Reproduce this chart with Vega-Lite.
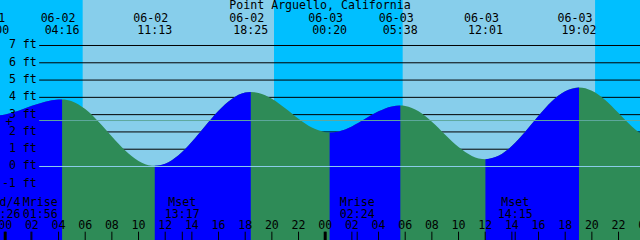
{
  "$schema": "https://vega.github.io/schema/vega-lite/v6.json",
  "width": 640,
  "height": 240,
  "autosize": {"type": "none"},
  "padding": 0,
  "background": "#00BFFF",
  "view": {"stroke": null, "fill": "#00BFFF"},
  "config": {
    "text": {"font": "DejaVu Sans Mono", "fontSize": 11.6, "color": "#000000", "baseline": "alphabetic"}
  },
  "datasets": {
    "tide": [
      {"t": -1.0, "ft": 2.93, "phase": "rising", "seg": 0},
      {"t": 0, "ft": 3.012, "phase": "rising", "seg": 0},
      {"t": 1, "ft": 3.229, "phase": "rising", "seg": 0},
      {"t": 2, "ft": 3.508, "phase": "rising", "seg": 0},
      {"t": 3, "ft": 3.751, "phase": "rising", "seg": 0},
      {"t": 4, "ft": 3.874, "phase": "rising", "seg": 0},
      {"t": 4.267, "ft": 3.88, "phase": "rising", "seg": 0},
      {"t": 5, "ft": 3.776, "phase": "falling", "seg": 1},
      {"t": 6, "ft": 3.32, "phase": "falling", "seg": 1},
      {"t": 7, "ft": 2.592, "phase": "falling", "seg": 1},
      {"t": 8, "ft": 1.737, "phase": "falling", "seg": 1},
      {"t": 9, "ft": 0.925, "phase": "falling", "seg": 1},
      {"t": 10, "ft": 0.325, "phase": "falling", "seg": 1},
      {"t": 11, "ft": 0.049, "phase": "falling", "seg": 1},
      {"t": 11.217, "ft": 0.04, "phase": "rising", "seg": 2},
      {"t": 12, "ft": 0.163, "phase": "rising", "seg": 2},
      {"t": 13, "ft": 0.654, "phase": "rising", "seg": 2},
      {"t": 14, "ft": 1.429, "phase": "rising", "seg": 2},
      {"t": 15, "ft": 2.346, "phase": "rising", "seg": 2},
      {"t": 16, "ft": 3.229, "phase": "rising", "seg": 2},
      {"t": 17, "ft": 3.911, "phase": "rising", "seg": 2},
      {"t": 18, "ft": 4.275, "phase": "rising", "seg": 2},
      {"t": 18.417, "ft": 4.31, "phase": "rising", "seg": 2},
      {"t": 19, "ft": 4.254, "phase": "falling", "seg": 3},
      {"t": 20, "ft": 3.92, "phase": "falling", "seg": 3},
      {"t": 21, "ft": 3.371, "phase": "falling", "seg": 3},
      {"t": 22, "ft": 2.759, "phase": "falling", "seg": 3},
      {"t": 23, "ft": 2.249, "phase": "falling", "seg": 3},
      {"t": 24, "ft": 1.988, "phase": "falling", "seg": 3},
      {"t": 24.333, "ft": 1.97, "phase": "rising", "seg": 4},
      {"t": 25, "ft": 2.03, "phase": "rising", "seg": 4},
      {"t": 26, "ft": 2.321, "phase": "rising", "seg": 4},
      {"t": 27, "ft": 2.758, "phase": "rising", "seg": 4},
      {"t": 28, "ft": 3.192, "phase": "rising", "seg": 4},
      {"t": 29, "ft": 3.476, "phase": "rising", "seg": 4},
      {"t": 29.633, "ft": 3.53, "phase": "rising", "seg": 4},
      {"t": 30, "ft": 3.505, "phase": "falling", "seg": 5},
      {"t": 31, "ft": 3.191, "phase": "falling", "seg": 5},
      {"t": 32, "ft": 2.59, "phase": "falling", "seg": 5},
      {"t": 33, "ft": 1.841, "phase": "falling", "seg": 5},
      {"t": 34, "ft": 1.125, "phase": "falling", "seg": 5},
      {"t": 35, "ft": 0.612, "phase": "falling", "seg": 5},
      {"t": 36.017, "ft": 0.42, "phase": "rising", "seg": 6},
      {"t": 37, "ft": 0.618, "phase": "rising", "seg": 6},
      {"t": 38, "ft": 1.186, "phase": "rising", "seg": 6},
      {"t": 39, "ft": 2.012, "phase": "rising", "seg": 6},
      {"t": 40, "ft": 2.933, "phase": "rising", "seg": 6},
      {"t": 41, "ft": 3.771, "phase": "rising", "seg": 6},
      {"t": 42, "ft": 4.353, "phase": "rising", "seg": 6},
      {"t": 43.033, "ft": 4.57, "phase": "rising", "seg": 6},
      {"t": 44, "ft": 4.383, "phase": "falling", "seg": 7},
      {"t": 45, "ft": 3.847, "phase": "falling", "seg": 7},
      {"t": 46, "ft": 3.093, "phase": "falling", "seg": 7},
      {"t": 47, "ft": 2.316, "phase": "falling", "seg": 7},
      {"t": 48, "ft": 1.717, "phase": "falling", "seg": 7},
      {"t": 49.2, "ft": 1.43, "phase": "falling", "seg": 7}
    ],
    "daylight": [
      {"sunrise": 5.81, "sunset": 20.16},
      {"sunrise": 29.81, "sunset": 44.24}
    ],
    "levels": [
      {"ft": 7, "label": "7 ft"}, {"ft": 6, "label": "6 ft"}, {"ft": 5, "label": "5 ft"},
      {"ft": 4, "label": "4 ft"}, {"ft": 3, "label": "3 ft"}, {"ft": 2, "label": "2 ft"},
      {"ft": 1, "label": "1 ft"}, {"ft": 0, "label": "0 ft"}, {"ft": -1, "label": "-1 ft"},
      {"ft": -2, "label": ""}, {"ft": -3, "label": ""}, {"ft": -4, "label": ""}
    ],
    "marklines": [
      {"name": "datum", "ft": 0},
      {"name": "mean", "ft": 2.66}
    ],
    "events": [
      {"t": -1.0, "date": "06-01", "time": "23:00"},
      {"t": 4.267, "date": "06-02", "time": "04:16"},
      {"t": 11.217, "date": "06-02", "time": "11:13"},
      {"t": 18.417, "date": "06-02", "time": "18:25"},
      {"t": 24.333, "date": "06-03", "time": "00:20"},
      {"t": 29.633, "date": "06-03", "time": "05:38"},
      {"t": 36.017, "date": "06-03", "time": "12:01"},
      {"t": 43.033, "date": "06-03", "time": "19:02"}
    ],
    "hours": [
      {"t": 0, "label": "00"}, {"t": 2, "label": "02"}, {"t": 4, "label": "04"},
      {"t": 6, "label": "06"}, {"t": 8, "label": "08"}, {"t": 10, "label": "10"},
      {"t": 12, "label": "12"}, {"t": 14, "label": "14"}, {"t": 16, "label": "16"},
      {"t": 18, "label": "18"}, {"t": 20, "label": "20"}, {"t": 22, "label": "22"},
      {"t": 24, "label": "00"}, {"t": 26, "label": "02"}, {"t": 28, "label": "04"},
      {"t": 30, "label": "06"}, {"t": 32, "label": "08"}, {"t": 34, "label": "10"},
      {"t": 36, "label": "12"}, {"t": 38, "label": "14"}, {"t": 40, "label": "16"},
      {"t": 42, "label": "18"}, {"t": 44, "label": "20"}, {"t": 46, "label": "22"},
      {"t": 48, "label": "00"}
    ],
    "moon": [
      {"t": 0.433, "name": "3rd/4", "time": "00:26"},
      {"t": 1.933, "name": "Mrise", "time": "01:56"},
      {"t": 13.283, "name": "Mset", "time": "13:17"},
      {"t": 26.4, "name": "Mrise", "time": "02:24"},
      {"t": 38.25, "name": "Mset", "time": "14:15"}
    ],
    "station": [{"name": "Point Arguello, California"}]
  },
  "layer": [
    {
      "data": {"name": "daylight"},
      "mark": {"type": "rect", "color": "#87CEEB"},
      "encoding": {
        "x": {"field": "sunrise", "type": "quantitative", "scale": {"domain": [-0.39, 47.61], "nice": false, "zero": false}, "axis": null},
        "x2": {"field": "sunset"},
        "y": {"datum": 9.632, "type": "quantitative", "scale": {"domain": [-4.252, 9.632], "nice": false, "zero": false}, "axis": null},
        "y2": {"datum": -4.252}
      }
    },
    {
      "data": {"name": "levels"},
      "mark": {"type": "rule", "color": "#000000", "strokeWidth": 1},
      "encoding": {
        "x": {"datum": 2.55, "type": "quantitative", "scale": {"domain": [-0.39, 47.61], "nice": false, "zero": false}, "axis": null},
        "x2": {"datum": 47.61},
        "y": {"field": "ft", "type": "quantitative", "scale": {"domain": [-4.252, 9.632], "nice": false, "zero": false}, "axis": null}
      }
    },
    {
      "data": {"name": "tide"},
      "mark": {"type": "area", "interpolate": "monotone", "color": "#2E8B57", "clip": true},
      "encoding": {
        "x": {"field": "t", "type": "quantitative", "scale": {"domain": [-0.39, 47.61], "nice": false, "zero": false}, "axis": null},
        "y": {"field": "ft", "type": "quantitative", "stack": null, "scale": {"domain": [-4.252, 9.632], "nice": false, "zero": false}, "axis": null},
        "y2": {"datum": -4.252}
      }
    },
    {
      "data": {"name": "tide"},
      "transform": [{"filter": "datum.phase == 'rising'"}],
      "mark": {"type": "area", "interpolate": "monotone", "color": "#0000FF", "clip": true},
      "encoding": {
        "x": {"field": "t", "type": "quantitative", "scale": {"domain": [-0.39, 47.61], "nice": false, "zero": false}, "axis": null},
        "y": {"field": "ft", "type": "quantitative", "stack": null, "scale": {"domain": [-4.252, 9.632], "nice": false, "zero": false}, "axis": null},
        "y2": {"datum": -4.252},
        "detail": {"field": "seg", "type": "nominal"}
      }
    },
    {
      "data": {"name": "marklines"},
      "mark": {"type": "rule", "strokeWidth": 1},
      "encoding": {
        "x": {"datum": 2.55, "type": "quantitative", "scale": {"domain": [-0.39, 47.61], "nice": false, "zero": false}, "axis": null},
        "x2": {"datum": 47.61},
        "y": {"field": "ft", "type": "quantitative", "scale": {"domain": [-4.252, 9.632], "nice": false, "zero": false}, "axis": null},
        "color": {"field": "name", "type": "nominal", "scale": {"domain": ["datum", "mean"], "range": ["#8CCDEB", "#5FA89E"]}, "legend": null}
      }
    },
    {
      "data": {"name": "levels"},
      "transform": [{"filter": "datum.label != ''"}],
      "mark": {"type": "text", "align": "right", "baseline": "middle", "clip": true},
      "encoding": {
        "x": {"datum": 2.37, "type": "quantitative", "scale": {"domain": [-0.39, 47.61], "nice": false, "zero": false}, "axis": null},
        "y": {"field": "ft", "type": "quantitative", "scale": {"domain": [-4.252, 9.632], "nice": false, "zero": false}, "axis": null},
        "text": {"field": "label"}
      }
    },
    {
      "data": {"name": "events"},
      "mark": {"type": "text", "align": "center", "dx": -4, "clip": true},
      "encoding": {
        "x": {"field": "t", "type": "quantitative", "scale": {"domain": [-0.39, 47.61], "nice": false, "zero": false}, "axis": null},
        "y": {"datum": 8.377, "type": "quantitative", "scale": {"domain": [-4.252, 9.632], "nice": false, "zero": false}, "axis": null},
        "text": {"field": "date"}
      }
    },
    {
      "data": {"name": "events"},
      "mark": {"type": "text", "align": "center", "clip": true},
      "encoding": {
        "x": {"field": "t", "type": "quantitative", "scale": {"domain": [-0.39, 47.61], "nice": false, "zero": false}, "axis": null},
        "y": {"datum": 7.648, "type": "quantitative", "scale": {"domain": [-4.252, 9.632], "nice": false, "zero": false}, "axis": null},
        "text": {"field": "time"}
      }
    },
    {
      "data": {"name": "station"},
      "mark": {"type": "text", "align": "center", "clip": true},
      "encoding": {
        "x": {"datum": 23.61, "type": "quantitative", "scale": {"domain": [-0.39, 47.61], "nice": false, "zero": false}, "axis": null},
        "y": {"datum": 9.094, "type": "quantitative", "scale": {"domain": [-4.252, 9.632], "nice": false, "zero": false}, "axis": null},
        "text": {"field": "name"}
      }
    },
    {
      "data": {"name": "hours"},
      "mark": {"type": "text", "align": "center", "clip": true},
      "encoding": {
        "x": {"field": "t", "type": "quantitative", "scale": {"domain": [-0.39, 47.61], "nice": false, "zero": false}, "axis": null},
        "y": {"datum": -3.633, "type": "quantitative", "scale": {"domain": [-4.252, 9.632], "nice": false, "zero": false}, "axis": null},
        "text": {"field": "label"}
      }
    },
    {
      "data": {"name": "hours"},
      "mark": {"type": "rule", "color": "#000000", "strokeWidth": 1},
      "encoding": {
        "x": {"field": "t", "type": "quantitative", "scale": {"domain": [-0.39, 47.61], "nice": false, "zero": false}, "axis": null},
        "y": {"datum": -3.772, "type": "quantitative", "scale": {"domain": [-4.252, 9.632], "nice": false, "zero": false}, "axis": null},
        "y2": {"datum": -4.252}
      }
    },
    {
      "data": {"name": "hours"},
      "transform": [{"filter": "datum.t % 24 == 0"}],
      "mark": {"type": "rule", "color": "#000000", "strokeWidth": 3},
      "encoding": {
        "x": {"field": "t", "type": "quantitative", "scale": {"domain": [-0.39, 47.61], "nice": false, "zero": false}, "axis": null},
        "y": {"datum": -3.772, "type": "quantitative", "scale": {"domain": [-4.252, 9.632], "nice": false, "zero": false}, "axis": null},
        "y2": {"datum": -4.252}
      }
    },
    {
      "data": {"name": "moon"},
      "transform": [{"filter": "datum.name != '3rd/4'"}],
      "mark": {"type": "rule", "color": "#000000", "strokeWidth": 1},
      "encoding": {
        "x": {"field": "t", "type": "quantitative", "scale": {"domain": [-0.39, 47.61], "nice": false, "zero": false}, "axis": null},
        "y": {"datum": -3.772, "type": "quantitative", "scale": {"domain": [-4.252, 9.632], "nice": false, "zero": false}, "axis": null},
        "y2": {"datum": -4.252}
      }
    },
    {
      "data": {"name": "moon"},
      "transform": [{"filter": "datum.t > 10"}],
      "mark": {"type": "text", "align": "center", "clip": true},
      "encoding": {
        "x": {"field": "t", "type": "quantitative", "scale": {"domain": [-0.39, 47.61], "nice": false, "zero": false}, "axis": null},
        "y": {"datum": -2.303, "type": "quantitative", "scale": {"domain": [-4.252, 9.632], "nice": false, "zero": false}, "axis": null},
        "text": {"field": "name"}
      }
    },
    {
      "data": {"name": "moon"},
      "transform": [{"filter": "datum.t > 10"}],
      "mark": {"type": "text", "align": "center", "clip": true},
      "encoding": {
        "x": {"field": "t", "type": "quantitative", "scale": {"domain": [-0.39, 47.61], "nice": false, "zero": false}, "axis": null},
        "y": {"datum": -2.962, "type": "quantitative", "scale": {"domain": [-4.252, 9.632], "nice": false, "zero": false}, "axis": null},
        "text": {"field": "time"}
      }
    },
    {
      "data": {"name": "moon"},
      "transform": [{"filter": "datum.t > 1 && datum.t < 10"}],
      "mark": {"type": "text", "align": "center", "dx": 9.2, "clip": true},
      "encoding": {
        "x": {"field": "t", "type": "quantitative", "scale": {"domain": [-0.39, 47.61], "nice": false, "zero": false}, "axis": null},
        "y": {"datum": -2.303, "type": "quantitative", "scale": {"domain": [-4.252, 9.632], "nice": false, "zero": false}, "axis": null},
        "text": {"field": "name"}
      }
    },
    {
      "data": {"name": "moon"},
      "transform": [{"filter": "datum.t > 1 && datum.t < 10"}],
      "mark": {"type": "text", "align": "center", "dx": 9.2, "clip": true},
      "encoding": {
        "x": {"field": "t", "type": "quantitative", "scale": {"domain": [-0.39, 47.61], "nice": false, "zero": false}, "axis": null},
        "y": {"datum": -2.962, "type": "quantitative", "scale": {"domain": [-4.252, 9.632], "nice": false, "zero": false}, "axis": null},
        "text": {"field": "time"}
      }
    },
    {
      "data": {"name": "moon"},
      "transform": [{"filter": "datum.t < 1"}],
      "mark": {"type": "text", "align": "right", "dx": 9.5, "clip": true},
      "encoding": {
        "x": {"field": "t", "type": "quantitative", "scale": {"domain": [-0.39, 47.61], "nice": false, "zero": false}, "axis": null},
        "y": {"datum": -2.303, "type": "quantitative", "scale": {"domain": [-4.252, 9.632], "nice": false, "zero": false}, "axis": null},
        "text": {"field": "name"}
      }
    },
    {
      "data": {"name": "moon"},
      "transform": [{"filter": "datum.t < 1"}],
      "mark": {"type": "text", "align": "right", "dx": 9.5, "clip": true},
      "encoding": {
        "x": {"field": "t", "type": "quantitative", "scale": {"domain": [-0.39, 47.61], "nice": false, "zero": false}, "axis": null},
        "y": {"datum": -2.962, "type": "quantitative", "scale": {"domain": [-4.252, 9.632], "nice": false, "zero": false}, "axis": null},
        "text": {"field": "time"}
      }
    },
    {
      "data": {"values": [{"sym": "+"}]},
      "mark": {"type": "text", "align": "center", "clip": true},
      "encoding": {
        "x": {"datum": 0.285, "type": "quantitative", "scale": {"domain": [-0.39, 47.61], "nice": false, "zero": false}, "axis": null},
        "y": {"datum": 2.36, "type": "quantitative", "scale": {"domain": [-4.252, 9.632], "nice": false, "zero": false}, "axis": null},
        "text": {"field": "sym"}
      }
    }
  ]
}
